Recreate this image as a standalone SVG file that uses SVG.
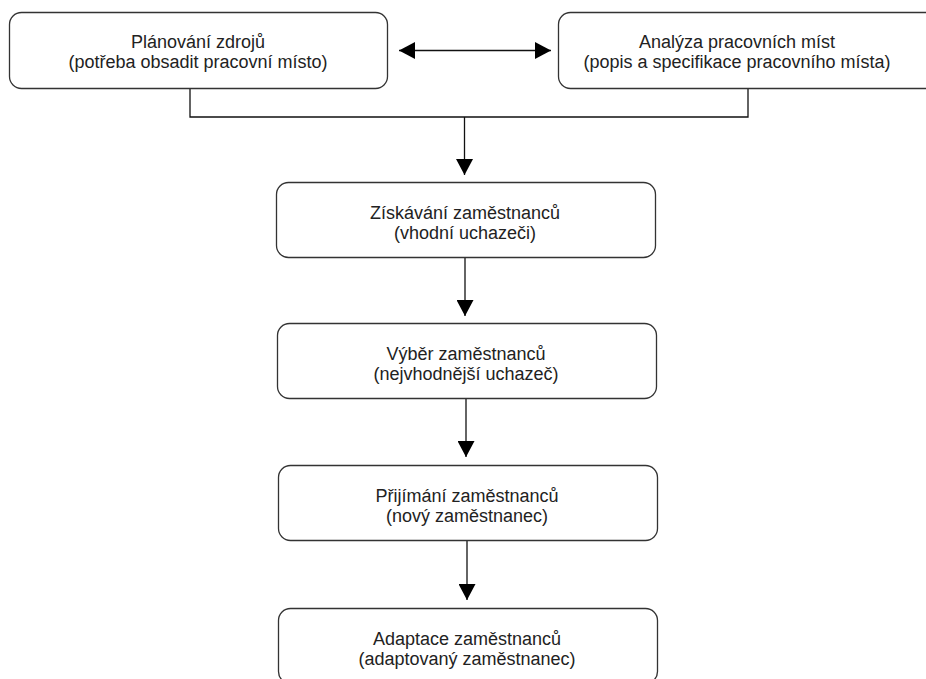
<svg xmlns="http://www.w3.org/2000/svg" width="926" height="679" viewBox="0 0 926 679">
<defs>
<style>
.box{fill:#fff;stroke:#333;stroke-width:1.3}
.t{font-family:"Liberation Sans",Arial,sans-serif;font-size:18px;fill:#222;text-anchor:middle}
.c{fill:none;stroke:#111;stroke-width:1.3}
</style>
<marker id="ah" viewBox="0 0 16 17" refX="16" refY="8.5" markerWidth="16" markerHeight="17" markerUnits="userSpaceOnUse" orient="auto-start-reverse">
<path d="M0,0 L16,8.5 L0,17 Z" fill="#000"/>
</marker>
</defs>
<rect width="926" height="679" fill="#fff"/>
<g id="connectors">
<line class="c" x1="399" y1="50.5" x2="551" y2="50.5" marker-start="url(#ah)" marker-end="url(#ah)"/>
<polyline class="c" points="190,88 190,117 748,117 748,88"/>
<line class="c" x1="464.5" y1="117" x2="464.5" y2="175" marker-end="url(#ah)"/>
<line class="c" x1="465" y1="258" x2="465" y2="316" marker-end="url(#ah)"/>
<line class="c" x1="466" y1="399" x2="466" y2="457" marker-end="url(#ah)"/>
<line class="c" x1="467" y1="541" x2="467" y2="600" marker-end="url(#ah)"/>
</g>
<g id="n1">
<rect class="box" x="9.5" y="12.5" width="378" height="76" rx="12"/>
<text class="t" x="198" y="48">Plánování zdrojů</text>
<text class="t" x="198" y="68">(potřeba obsadit pracovní místo)</text>
</g>
<g id="n2">
<rect class="box" x="558.5" y="12.5" width="380" height="76" rx="12"/>
<text class="t" x="737" y="48">Analýza pracovních míst</text>
<text class="t" x="737" y="68">(popis a specifikace pracovního místa)</text>
</g>
<g id="n3">
<rect class="box" x="276.5" y="182.5" width="379" height="75" rx="12"/>
<text class="t" x="465" y="219">Získávání zaměstnanců</text>
<text class="t" x="465" y="239">(vhodní uchazeči)</text>
</g>
<g id="n4">
<rect class="box" x="277.5" y="323.5" width="379" height="75" rx="12"/>
<text class="t" x="466" y="360">Výběr zaměstnanců</text>
<text class="t" x="466" y="380">(nejvhodnější uchazeč)</text>
</g>
<g id="n5">
<rect class="box" x="278.5" y="465.5" width="379" height="75" rx="12"/>
<text class="t" x="467" y="502">Přijímání zaměstnanců</text>
<text class="t" x="467" y="522">(nový zaměstnanec)</text>
</g>
<g id="n6">
<rect class="box" x="278.5" y="608.5" width="379" height="75" rx="12"/>
<text class="t" x="467" y="645">Adaptace zaměstnanců</text>
<text class="t" x="467" y="665">(adaptovaný zaměstnanec)</text>
</g>
</svg>
